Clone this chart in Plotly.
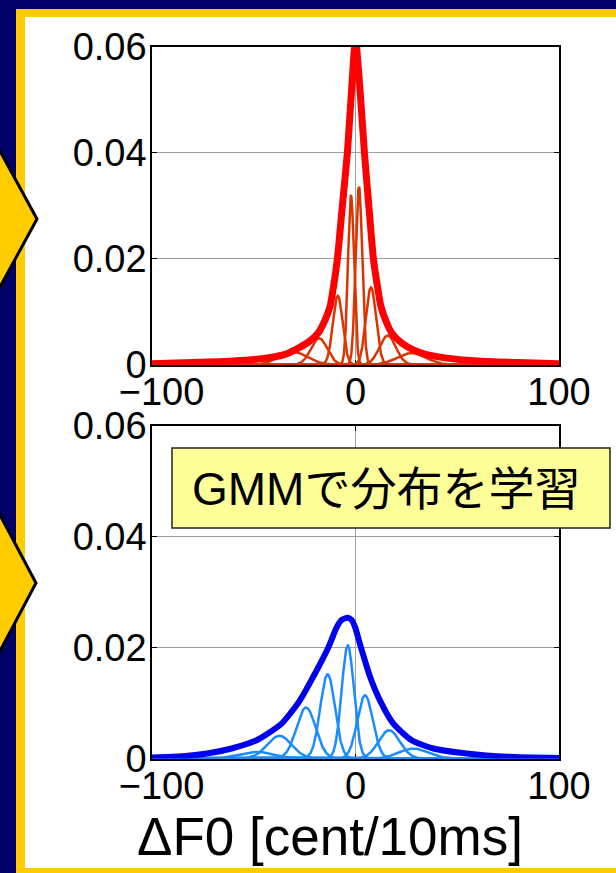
import numpy as np
import plotly.graph_objects as go

W, H = 616, 873
FONT = "Liberation Sans, Arial, Noto Sans CJK JP, sans-serif"

# ---- axis ticks -------------------------------------------------------
x_tickvals = [-100, 0, 100]
x_ticktext = ["\u2002\u2212100", "0", "100"]
y_tickvals = [0, 0.02, 0.04, 0.06]
y_ticktext = ["0", "0.02", "0.04", "0.06"]

# ---- upper panel: ΔF0 distribution (thick) and GMM components -------
red_total_x = [-100, -80, -60, -45, -35, -29.7, -23, -18.3, -15, -12.5, -10.5,
               -8.9, -6.5, -4.0, -1.9, 0, 2.2, 4.4, 6.6, 8.8, 10.5, 12.5,
               15, 17.8, 23, 28.4, 35, 46, 60, 80, 100]
red_total_y = [0.0002, 0.0004, 0.0007, 0.0012, 0.0019, 0.0028, 0.0043, 0.0060,
               0.0084, 0.0110, 0.0155, 0.0200, 0.0298, 0.0400, 0.0520, 0.0615,
               0.0520, 0.0400, 0.0298, 0.0200, 0.0155, 0.0110, 0.0082, 0.0060,
               0.0040, 0.0028, 0.0019, 0.0012, 0.0007, 0.0004, 0.0002]
red_comp_mean = [-30.6, -17.9, -8.7, -2.2, 1.7, 7.6, 15.8, 27.6]
red_comp_sigma = [7.0, 4.0, 2.4, 1.5, 1.6, 2.5, 4.0, 7.0]
red_comp_peak = [0.0024, 0.0050, 0.0130, 0.0319, 0.0336, 0.0146, 0.0055, 0.0022]

# ---- lower panel ------------------------------------------------------
blue_total_x = [-100, -85, -73, -60.9, -48.6, -36.3, -27.3, -20.7, -13.4, -9.2,
                -6.8, -3.8, -1.9, -0.2, 2.7, 7.1, 12.0, 18.6, 27.6, 38.2, 54.6,
                75, 100]
blue_total_y = [0.0002, 0.0004, 0.0009, 0.0018, 0.0033, 0.0063, 0.0105, 0.0148,
                0.0200, 0.0237, 0.0250, 0.0254, 0.0250, 0.0237, 0.0200, 0.0148,
                0.0105, 0.0063, 0.0033, 0.0018, 0.0009, 0.0003, 0.0001]
blue_comp_mean = [-48.6, -37.4, -24.3, -13.7, -3.8, 4.7, 16.5, 28.4]
blue_comp_sigma = [8.0, 6.0, 4.7, 3.6, 3.0, 3.8, 5.2, 7.0]
blue_comp_peak = [0.0012, 0.0041, 0.0092, 0.0152, 0.0204, 0.0114, 0.0051, 0.0018]

AXIS_TITLE = "\u0394F0 [cent/10ms]"
BOX_TEXT = "GMMで分布を学習"

NAVY = "#000066"
GOLD = "#FFCC00"


def px(x):
    return x / W


def py(y):
    return 1 - y / H


grid = np.linspace(-100, 100, 1601)


def gaussian(m, s, h):
    return h * np.exp(-0.5 * ((grid - m) / s) ** 2)


fig = go.Figure()

panels = [
    ("x", "y", red_total_x, red_total_y, red_comp_mean, red_comp_sigma,
     red_comp_peak, "#FF0000", "#DD3300", 7),
    ("x2", "y2", blue_total_x, blue_total_y, blue_comp_mean, blue_comp_sigma,
     blue_comp_peak, "#0000EE", "#1A8CFF", 6),
]
for xa, ya, tx, ty, cm, cs, cp, c_tot, c_comp, w_tot in panels:
    for m, s, h in zip(cm, cs, cp):
        fig.add_trace(go.Scatter(x=grid, y=gaussian(m, s, h), mode="lines",
                                 line=dict(color=c_comp, width=2.5),
                                 xaxis=xa, yaxis=ya, hoverinfo="skip"))
    fig.add_trace(go.Scatter(x=tx, y=ty, mode="lines",
                             line=dict(color=c_tot, width=w_tot,
                                       shape="spline", smoothing=0.6),
                             xaxis=xa, yaxis=ya, hoverinfo="skip"))


def axis_style(**kw):
    d = dict(showline=True, linecolor="black", linewidth=1.5, mirror="ticks",
             ticks="inside", ticklen=5, tickcolor="black", tickwidth=1,
             showgrid=True, gridcolor="#A0A0A0", gridwidth=1, zeroline=False,
             tickfont=dict(family=FONT, size=38, color="black"),
             layer="below traces", fixedrange=True, automargin=False)
    d.update(kw)
    return d


x_dom = [px(152), px(559)]
fig.update_layout(
    width=W, height=H, autosize=False,
    margin=dict(l=0, r=0, t=0, b=0, pad=0, autoexpand=False),
    paper_bgcolor=NAVY, plot_bgcolor="white",
    showlegend=False,
    xaxis=axis_style(domain=x_dom, range=[-100, 100], tickvals=x_tickvals,
                     ticktext=x_ticktext, anchor="y", ticklabelstandoff=-7),
    yaxis=axis_style(domain=[py(364.7), py(47)], range=[0, 0.06],
                     tickvals=y_tickvals, ticktext=y_ticktext, anchor="x",
                     ticklabelstandoff=-4),
    xaxis2=axis_style(domain=x_dom, range=[-100, 100], tickvals=x_tickvals,
                      ticktext=x_ticktext, anchor="y2", ticklabelstandoff=-7),
    yaxis2=axis_style(domain=[py(758.5), py(426)], range=[0, 0.06],
                      tickvals=y_tickvals, ticktext=y_ticktext, anchor="x2",
                      ticklabelstandoff=-4),
)

shapes = [
    # gold frame and white slide area
    dict(type="rect", xref="paper", yref="paper", x0=px(16), x1=1.2,
         y0=-0.2, y1=py(9), fillcolor=GOLD, line=dict(width=0), layer="below"),
    dict(type="rect", xref="paper", yref="paper", x0=px(25), x1=1.2,
         y0=py(868), y1=py(17), fillcolor="white", line=dict(width=0),
         layer="below"),
]


def chevron(tip_x, tip_y, half):
    slope = half / tip_x
    xl = -6
    return (f"M {px(xl)},{py(tip_y - half - slope * 6)} "
            f"L {px(tip_x)},{py(tip_y)} "
            f"L {px(xl)},{py(tip_y + half + slope * 6)} Z")


for tx_, ty_ in [(37, 219), (36, 583)]:
    shapes.append(dict(type="path", xref="paper", yref="paper",
                       path=chevron(tx_, ty_, 68), fillcolor=GOLD,
                       line=dict(color="black", width=3), layer="above"))

# label box
shapes.append(dict(type="rect", xref="paper", yref="paper",
                   x0=px(172), x1=px(610), y0=py(528), y1=py(448),
                   fillcolor="#FFFF99", line=dict(color="#222222", width=1.5),
                   layer="above"))
fig.update_layout(shapes=shapes)

fig.add_annotation(x=px(386), y=py(489), xref="paper", yref="paper",
                   text=BOX_TEXT, showarrow=False, xanchor="center",
                   yanchor="middle",
                   font=dict(family=FONT, size=46, color="black"))
fig.add_annotation(x=px(330), y=py(836), xref="paper", yref="paper",
                   text=AXIS_TITLE, showarrow=False, xanchor="center",
                   yanchor="middle",
                   font=dict(family=FONT, size=53, color="black"))

fig.write_html("out.html")
